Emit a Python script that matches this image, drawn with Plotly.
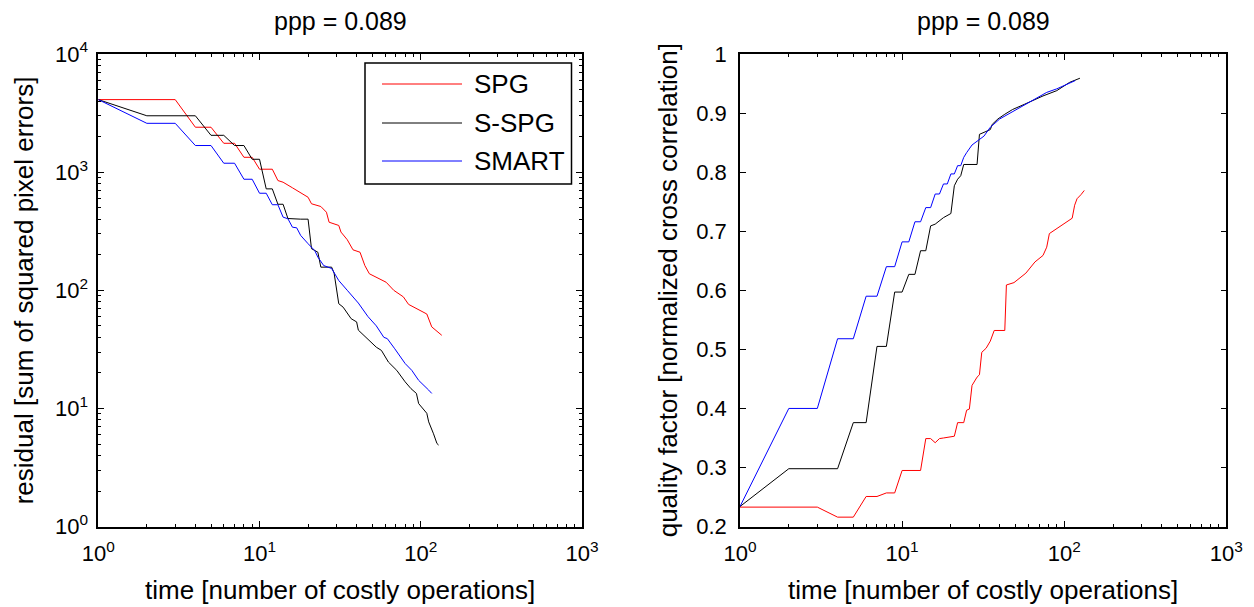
import plotly.graph_objects as go

# ---------------- data: left panel (residual) ----------------
spg_res_t = [1, 3, 4, 5, 6, 7, 8, 9, 10, 12, 13, 14, 16, 18, 20, 21, 24, 26, 27, 31, 32, 35, 38, 42, 45, 48, 55, 61, 68, 78, 84, 94, 109, 117, 135]
spg_res = [4110, 4110, 2400, 2400, 1755, 1755, 1336, 1336, 1059, 1059, 849, 822, 737, 663, 613, 540, 512, 458, 377, 354, 311, 268, 220, 210, 162, 138, 125, 117, 100, 88, 76, 70, 63, 49, 41.6]

sspg_res_t = [1, 2, 4, 5, 6, 7, 8, 9, 10, 11, 12, 13, 14, 15, 18, 20, 21, 23, 24, 28, 29, 30, 31, 33, 34, 36, 37, 40, 41, 53, 57, 63, 71, 80, 87, 94, 97, 109, 112, 120, 126, 129]
sspg_res = [4110, 3000, 3000, 2050, 2050, 1680, 1680, 1285, 1285, 722, 722, 535, 535, 405, 400, 400, 225, 210, 157, 157, 140, 105, 77, 72, 68, 61, 57.5, 54, 46, 33, 31, 24.7, 21, 16.8, 14.7, 13.4, 11, 9.1, 7.7, 6.1, 5.05, 4.9]

smart_res_t = [1, 2, 3, 4, 5, 6, 7, 8, 9, 10, 11, 12, 13, 14, 15, 16, 17, 18, 20, 22, 23, 25, 28, 31, 35, 41, 47, 53, 59, 62, 69, 80, 88, 97, 112, 117]
smart_res = [4110, 2590, 2590, 1680, 1680, 1190, 1190, 871, 871, 663, 663, 530, 530, 416, 403, 342, 338, 291, 248, 217, 191, 162, 153, 121, 100, 78, 60, 50, 40, 39, 32, 24, 21, 17.3, 14.3, 13.4]

# ---------------- data: right panel (quality) ----------------
spg_q_t = [1, 3, 4, 5, 6, 7, 8, 9, 10, 13, 14, 15, 16, 17, 18, 20, 21, 22, 24, 25, 26, 27, 29, 30, 31, 33, 35, 37, 43, 44, 49, 58, 63, 66, 74, 78, 81, 90, 101, 112, 116, 120, 127, 133]
spg_q = [0.233, 0.233, 0.216, 0.216, 0.251, 0.251, 0.257, 0.257, 0.295, 0.295, 0.349, 0.349, 0.342, 0.349, 0.350, 0.352, 0.353, 0.376, 0.376, 0.397, 0.399, 0.439, 0.453, 0.457, 0.495, 0.502, 0.514, 0.532, 0.532, 0.609, 0.613, 0.629, 0.640, 0.648, 0.659, 0.673, 0.696, 0.704, 0.713, 0.722, 0.744, 0.755, 0.762, 0.769]

sspg_q_t = [1, 2, 4, 5, 6, 7, 8, 9, 10, 11, 12, 13, 14, 15, 16, 17, 18, 20, 21, 22, 23, 24, 29, 30, 35, 36, 39, 43, 48, 57, 74, 90, 108, 125]
sspg_q = [0.234, 0.298, 0.298, 0.376, 0.376, 0.505, 0.505, 0.597, 0.597, 0.627, 0.627, 0.667, 0.667, 0.709, 0.712, 0.717, 0.723, 0.730, 0.777, 0.788, 0.794, 0.813, 0.813, 0.864, 0.872, 0.881, 0.890, 0.898, 0.906, 0.915, 0.929, 0.938, 0.952, 0.959]

smart_q_t = [1, 2, 3, 4, 5, 6, 7, 8, 9, 10, 11, 12, 13, 14, 15, 16, 17, 18, 19, 20, 21, 22, 23, 24, 25, 27, 32, 35, 40, 47, 57, 68, 78, 90, 104, 114, 117]
smart_q = [0.234, 0.400, 0.400, 0.518, 0.518, 0.590, 0.590, 0.640, 0.640, 0.682, 0.682, 0.716, 0.716, 0.740, 0.740, 0.763, 0.763, 0.780, 0.780, 0.797, 0.797, 0.811, 0.811, 0.825, 0.833, 0.846, 0.861, 0.876, 0.890, 0.901, 0.915, 0.927, 0.935, 0.941, 0.949, 0.953, 0.955]

series_names = ["SPG", "S-SPG", "SMART"]
series_colors = ["#ff0000", "#000000", "#0000ff"]

log_x_ticks = [1, 10, 100, 1000]
log_x_labels = ["10<sup>0</sup>", "10<sup>1</sup>", "10<sup>2</sup>", "10<sup>3</sup>"]
log_y_ticks = [1, 10, 100, 1000, 10000]
log_y_labels = ["10<sup>0</sup>", "10<sup>1</sup>", "10<sup>2</sup>", "10<sup>3</sup>", "10<sup>4</sup>"]
q_ticks = [0.2, 0.3, 0.4, 0.5, 0.6, 0.7, 0.8, 0.9, 1.0]
q_labels = ["0.2", "0.3", "0.4", "0.5", "0.6", "0.7", "0.8", "0.9", "1"]

title_text = "ppp = 0.089"
xlabel = "time [number of costly operations]"
ylabel_left = "residual [sum of squared pixel errors]"
ylabel_right = "quality factor [normalized cross correlation]"

# The page body has an 8px margin, so the figure is drawn 8px smaller and all
# positions (given in window pixels) are shifted by that offset.
OFF = 8
W, H = 1254 - OFF, 607 - OFF
FONT = "Liberation Sans, Arial, Helvetica, sans-serif"

def minor_vals(decades):
    return [m * 10 ** d for d in range(decades) for m in range(2, 10)]

fig = go.Figure()
left = [(spg_res_t, spg_res), (sspg_res_t, sspg_res), (smart_res_t, smart_res)]
right = [(spg_q_t, spg_q), (sspg_q_t, sspg_q), (smart_q_t, smart_q)]
for (tx, vy), name, col in zip(left, series_names, series_colors):
    fig.add_trace(go.Scatter(x=tx, y=vy, mode="lines", name=name, line=dict(color=col, width=1),
                             xaxis="x", yaxis="y", showlegend=False))
for (tx, vy), name, col in zip(right, series_names, series_colors):
    fig.add_trace(go.Scatter(x=tx, y=vy, mode="lines", name=name, line=dict(color=col, width=1),
                             xaxis="x2", yaxis="y2", showlegend=False))

# plot-area geometry in window pixels
L1, R1 = 98.3, 582.0
L2, R2 = 740.0, 1226.3
TOP, BOT = 54.0, 526.6
px = lambda v: (v - OFF) / W
py = lambda v: 1 - (v - OFF) / H

axis_common = dict(showline=True, linecolor="black", linewidth=1.5, mirror="allticks",
                   ticks="inside", ticklen=6, tickwidth=1, tickcolor="black", showgrid=False,
                   zeroline=False, automargin=False,
                   tickfont=dict(family=FONT, size=22, color="black"))
minor_common = dict(ticks="inside", ticklen=3, tickwidth=1, tickcolor="black", showgrid=False)

fig.update_layout(
    template="none",
    width=W, height=H, margin=dict(l=0, r=0, t=0, b=0, pad=0, autoexpand=False),
    paper_bgcolor="white", plot_bgcolor="white",
    font=dict(family=FONT, color="black"),
    xaxis=dict(domain=[px(L1), px(R1)], anchor="y", type="log", range=[0, 3],
               tickmode="array", tickvals=log_x_ticks, ticktext=log_x_labels,
               minor=dict(tickvals=minor_vals(3), **minor_common), ticklabelstandoff=6,
               **axis_common),
    yaxis=dict(domain=[py(BOT), py(TOP)], anchor="x", type="log", range=[0, 4],
               tickmode="array", tickvals=log_y_ticks, ticktext=log_y_labels,
               minor=dict(tickvals=minor_vals(4), **minor_common), ticklabelstandoff=4,
               **axis_common),
    xaxis2=dict(domain=[px(L2), px(R2)], anchor="y2", type="log", range=[0, 3],
                tickmode="array", tickvals=log_x_ticks, ticktext=log_x_labels,
                minor=dict(tickvals=minor_vals(3), **minor_common), ticklabelstandoff=6,
                **axis_common),
    yaxis2=dict(domain=[py(BOT), py(TOP)], anchor="x2", type="linear", range=[0.2, 1.0],
                tickmode="array", tickvals=q_ticks, ticktext=q_labels, ticklabelstandoff=7,
                **axis_common),
)

ann = []
title_font = dict(family=FONT, size=25, color="black")
label_font = dict(family=FONT, size=26, color="black")
for (l, r) in [(L1, R1), (L2, R2)]:
    ann.append(dict(text=title_text, x=px((l + r) / 2), y=py(21), xref="paper", yref="paper",
                    xanchor="center", yanchor="middle", showarrow=False, font=title_font))
    ann.append(dict(text=xlabel, x=px((l + r) / 2), y=py(590), xref="paper", yref="paper",
                    xanchor="center", yanchor="middle", showarrow=False, font=label_font))
ann.append(dict(text=ylabel_left, x=px(24), y=py((TOP + BOT) / 2), xref="paper", yref="paper",
                xanchor="center", yanchor="middle", textangle=-90, showarrow=False, font=label_font))
ann.append(dict(text=ylabel_right, x=px(668), y=py((TOP + BOT) / 2), xref="paper", yref="paper",
                xanchor="center", yanchor="middle", textangle=-90, showarrow=False, font=label_font))

# legend (drawn box, sample lines, labels)
shapes = [dict(type="rect", xref="paper", yref="paper", x0=px(365), x1=px(571.5), y0=py(184), y1=py(63),
               line=dict(color="black", width=1.5), fillcolor="white", layer="above")]
rows = [84, 123, 161]
for name, col, ry in zip(series_names, series_colors, rows):
    shapes.append(dict(type="line", xref="paper", yref="paper", x0=px(382), x1=px(462), y0=py(ry), y1=py(ry),
                       line=dict(color=col, width=1), layer="above"))
    ann.append(dict(text=name, x=px(472), y=py(ry), xref="paper", yref="paper", xanchor="left",
                    yanchor="middle", showarrow=False, font=label_font))

fig.update_layout(annotations=ann, shapes=shapes)
fig.write_html("out.html")
